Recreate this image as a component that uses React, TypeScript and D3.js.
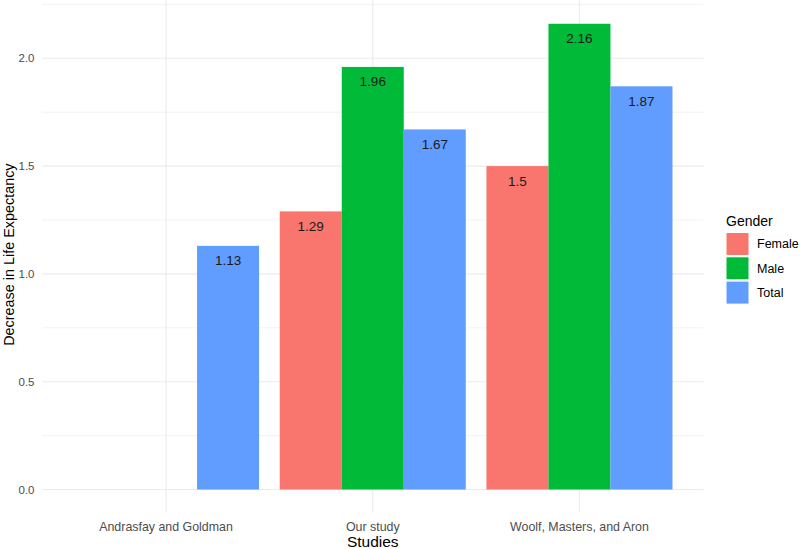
import React from "react";
import * as d3 from "d3";

const studies = ["Andrasfay and Goldman", "Our study", "Woolf, Masters, and Aron"];
const genders = ["Female", "Male", "Total"];
const colors = ["#F8766D", "#00BA38", "#619CFF"];
const femaleValues: (number | null)[] = [null, 1.29, 1.5];
const maleValues: (number | null)[] = [null, 1.96, 2.16];
const totalValues: (number | null)[] = [1.13, 1.67, 1.87];
const yTicks = [0, 0.5, 1.0, 1.5, 2.0];
const yMinor = [0.25, 0.75, 1.25, 1.75, 2.25];

const W = 800, H = 549;
const panel = { left: 42, right: 703.5, top: 0.5, bottom: 512.8 };
const font = "'Liberation Sans', Arial, sans-serif";

export default function App() {
  const series = [femaleValues, maleValues, totalValues];
  const maxV = d3.max(series.flat().filter((v) => v != null) as number[]) as number;
  const pad = maxV * 0.05;
  const y = d3.scaleLinear().domain([-pad, maxV + pad]).range([panel.bottom, panel.top]);
  const step = (panel.right - panel.left) / (studies.length - 1 + 1.2);
  const x = (i: number) => panel.left + step * (0.6 + i);
  const groupW = step * 0.9;
  const inner = d3.scaleBand().domain(genders).range([-groupW / 2, groupW / 2]).padding(0);

  return (
    <svg width={W} height={H} style={{ position: "absolute", left: 0, top: 0, background: "#fff" }} fontFamily={font}>
      {yMinor.map((t) => (
        <line key={"m" + t} x1={panel.left} x2={panel.right} y1={y(t)} y2={y(t)} stroke="#EBEBEB" strokeWidth={0.6} />
      ))}
      {yTicks.map((t) => (
        <line key={"g" + t} x1={panel.left} x2={panel.right} y1={y(t)} y2={y(t)} stroke="#EBEBEB" strokeWidth={1.1} />
      ))}
      {studies.map((s, i) => (
        <line key={"v" + s} x1={x(i)} x2={x(i)} y1={panel.top} y2={panel.bottom} stroke="#EBEBEB" strokeWidth={1.1} />
      ))}
      {studies.map((s, i) =>
        genders.map((g, j) => {
          const v = series[j][i];
          if (v == null) return null;
          const bx = x(i) + (inner(g) as number);
          return (
            <g key={s + g}>
              <rect x={bx} y={y(v)} width={inner.bandwidth()} height={y(0) - y(v)} fill={colors[j]} />
              <text x={bx + inner.bandwidth() / 2} y={y(v) + 19.5} textAnchor="middle" fontSize={13.5} fill="#1a1a1a">
                {String(v)}
              </text>
            </g>
          );
        })
      )}
      {yTicks.map((t) => (
        <text key={"yt" + t} x={34.5} y={y(t)} dy="0.35em" textAnchor="end" fontSize={11.5} fill="#4D4D4D">
          {d3.format(".1f")(t)}
        </text>
      ))}
      {studies.map((s, i) => (
        <text key={"xt" + s} x={x(i)} y={531} textAnchor="middle" fontSize={12.4} fill="#4D4D4D">
          {s}
        </text>
      ))}
      <text x={(panel.left + panel.right) / 2} y={546.5} textAnchor="middle" fontSize={15.5} fill="#000">
        Studies
      </text>
      <text transform={`translate(13.5,${(panel.top + panel.bottom) / 2 - 2}) rotate(-90)`} textAnchor="middle" fontSize={14.4} fill="#000">
        Decrease in Life Expectancy
      </text>
      <text x={726} y={226} fontSize={14} fill="#000">Gender</text>
      {genders.map((g, j) => (
        <g key={"lg" + g}>
          <rect x={726} y={232.5 + j * 24.3} width={23} height={23} fill={colors[j]} stroke="#fff" strokeWidth={1} />
          <text x={757} y={232.5 + j * 24.3 + 11.5} dy="0.35em" fontSize={12.5} fill="#000">{g}</text>
        </g>
      ))}
    </svg>
  );
}
